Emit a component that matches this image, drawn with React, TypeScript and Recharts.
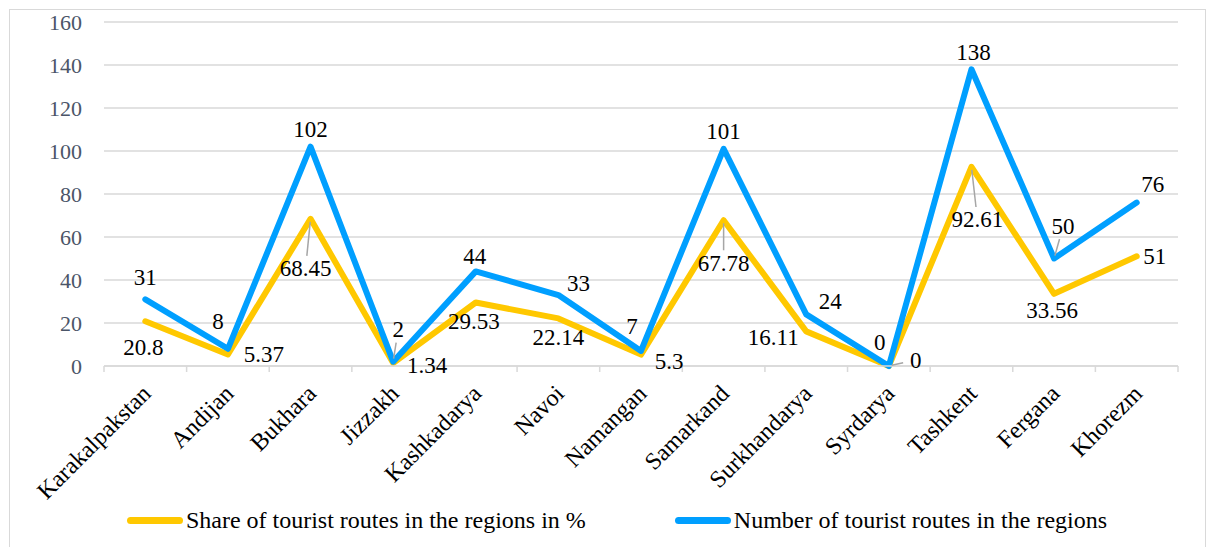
import React from "react";
import {
  LineChart,
  Line,
  XAxis,
  YAxis,
  CartesianGrid,
  Legend,
} from "recharts";

const categories = [
  "Karakalpakstan",
  "Andijan",
  "Bukhara",
  "Jizzakh",
  "Kashkadarya",
  "Navoi",
  "Namangan",
  "Samarkand",
  "Surkhandarya",
  "Syrdarya",
  "Tashkent",
  "Fergana",
  "Khorezm",
];
const shareValues = [20.8, 5.37, 68.45, 1.34, 29.53, 22.14, 5.3, 67.78, 16.11, 0, 92.61, 33.56, 51];
const routeCounts = [31, 8, 102, 2, 44, 33, 7, 101, 24, 0, 138, 50, 76];
const yTicks = [0, 20, 40, 60, 80, 100, 120, 140, 160];

const SHARE_NAME = "Share of tourist routes in the regions in %";
const COUNT_NAME = "Number of tourist routes in the regions";

// label placement relative to the point: [dx, dy, leader line]
const shareLabelPos: [number, number, boolean][] = [
  [-2, 26, false], [36, 0, false], [-5, 50, true], [34, 2, false],
  [-2, 19, false], [0, 19, false], [28, 7, false], [0, 43, true],
  [-33, 6, false], [27, -6, true], [6, 53, true], [-2, 17, false], [18, 0, false],
];
const countLabelPos: [number, number, boolean][] = [
  [0, -22, false], [-10, -27, false], [0, -17, false], [5, -32, true],
  [-1, -15, false], [20, -12, false], [-9, -24, false], [0, -17, false],
  [24, -13, false], [-9, -24, false], [2, -17, false], [9, -32, true], [16, -18, false],
];

const data = categories.map((region, i) => ({
  region,
  share: shareValues[i],
  count: routeCounts[i],
}));

const FONT = "'Liberation Serif', 'Times New Roman', serif";
const YELLOW = "#FFC800";
const BLUE = "#009FFF";
const GRID = "#D9D9D9";

const WIDTH = 1210;
const HEIGHT = 547;
const MARGIN = { top: 22, right: 32, bottom: 12, left: 44 };
const Y_AXIS_W = 60;
const PLOT_W = WIDTH - MARGIN.left - MARGIN.right - Y_AXIS_W;
const BAND = PLOT_W / categories.length;

function makeLabel(pos: [number, number, boolean][]) {
  // eslint-disable-next-line @typescript-eslint/no-explicit-any
  return (props: any) => {
    const { x, y, value, index } = props;
    const [dx, dy, leader] = pos[index];
    const dist = Math.hypot(dx, dy);
    const ux = dx / dist;
    const uy = dy / dist;
    return (
      <g key={`lbl-${index}`}>
        {leader && (
          <line
            x1={x + ux * 3}
            y1={y + uy * 3}
            x2={x + ux * (dist - 13)}
            y2={y + uy * (dist - 13)}
            stroke="#A6A6A6"
            strokeWidth={1.5}
          />
        )}
        <text
          x={x + dx}
          y={y + dy}
          textAnchor="middle"
          dominantBaseline="central"
          fontFamily={FONT}
          fontSize={23}
          fill="#000"
        >
          {value}
        </text>
      </g>
    );
  };
}

// eslint-disable-next-line @typescript-eslint/no-explicit-any
function CategoryTick({ x, y, payload, index }: any) {
  const last = index === categories.length - 1;
  const tx = x + 7;
  const ty = y + 29;
  return (
    <g>
      <line x1={x - BAND / 2} y1={y} x2={x - BAND / 2} y2={y + 6} stroke={GRID} strokeWidth={1.5} />
      {last && <line x1={x + BAND / 2} y1={y} x2={x + BAND / 2} y2={y + 6} stroke={GRID} strokeWidth={1.5} />}
      <text
        x={tx}
        y={ty}
        textAnchor="end"
        transform={`rotate(-45, ${tx}, ${ty})`}
        fontFamily={FONT}
        fontSize={24}
        fill="#000"
      >
        {payload.value}
      </text>
    </g>
  );
}

function LegendContent() {
  const items = [
    { name: SHARE_NAME, color: YELLOW },
    { name: COUNT_NAME, color: BLUE },
  ];
  return (
    <div
      style={{
        display: "flex",
        justifyContent: "center",
        alignItems: "center",
        height: 30,
        gap: 89,
        paddingLeft: 12,
      }}
    >
      {items.map((it) => (
        <div key={it.name} style={{ display: "flex", alignItems: "center" }}>
          <span
            style={{
              display: "inline-block",
              width: 56,
              height: 7,
              borderRadius: 4,
              background: it.color,
              marginRight: 3,
            }}
          />
          <span style={{ fontFamily: FONT, fontSize: 24, color: "#000", whiteSpace: "nowrap" }}>{it.name}</span>
        </div>
      ))}
    </div>
  );
}

export default function App() {
  return (
    <div
      style={{
        position: "fixed",
        left: 0,
        top: 0,
        width: WIDTH,
        height: HEIGHT,
        background: "#fff",
        fontFamily: FONT,
      }}
    >
      <div
        style={{
          position: "absolute",
          left: 9,
          top: 9,
          width: 1195,
          height: 545,
          border: `1.5px solid ${GRID}`,
        }}
      />
      <LineChart width={WIDTH} height={HEIGHT} data={data} margin={MARGIN}>
        <CartesianGrid vertical={false} stroke={GRID} strokeWidth={1.5} />
        <XAxis
          dataKey="region"
          interval={0}
          height={139}
          padding={{ left: BAND / 2, right: BAND / 2 }}
          axisLine={{ stroke: GRID, strokeWidth: 1.5 }}
          tickLine={false}
          tickSize={0}
          tickMargin={0}
          tick={<CategoryTick />}
        />
        <YAxis
          width={Y_AXIS_W}
          domain={[0, 160]}
          ticks={yTicks}
          axisLine={false}
          tickLine={false}
          tickSize={0}
          tickMargin={22}
          tick={{ fill: "#4B5568", fontSize: 22, fontFamily: FONT }}
        />
        <Legend verticalAlign="bottom" height={30} content={<LegendContent />} />
        <Line
          name={SHARE_NAME}
          dataKey="share"
          stroke={YELLOW}
          strokeWidth={6}
          strokeLinejoin="round"
          strokeLinecap="round"
          dot={false}
          activeDot={false}
          label={makeLabel(shareLabelPos)}
          isAnimationActive={false}
        />
        <Line
          name={COUNT_NAME}
          dataKey="count"
          stroke={BLUE}
          strokeWidth={6}
          strokeLinejoin="round"
          strokeLinecap="round"
          dot={false}
          activeDot={false}
          label={makeLabel(countLabelPos)}
          isAnimationActive={false}
        />
      </LineChart>
    </div>
  );
}
